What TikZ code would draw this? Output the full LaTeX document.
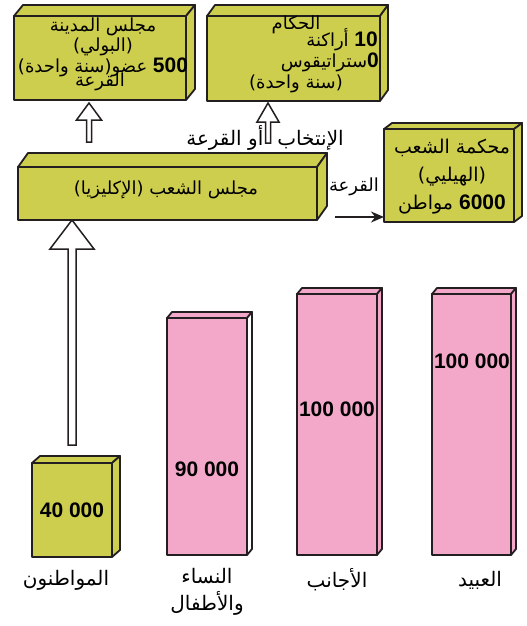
\documentclass[tikz,border=0pt]{standalone}
\usepackage{fontspec}
\setmainfont{Liberation Sans}
\newfontfamily\arabicfont[Script=Arabic]{DejaVu Sans}
\TeXXeTstate=1
\usepackage{xcolor}
\usepackage{tikz}
\usetikzlibrary{positioning}
\usetikzlibrary{arrows.meta,calc}

\definecolor{olive}{RGB}{206,206,78}
\definecolor{rose}{RGB}{243,168,201}
\definecolor{ink}{RGB}{35,31,32}

\newcommand{\artext}[1]{{\arabicfont\beginR #1\endR}}
\newcommand{\bignum}[1]{{\rmfamily\fontsize{21}{24}\selectfont\bfseries\beginL #1\endL}}

\begin{document}
\begin{tikzpicture}[x=1pt, y=-1pt,
  face/.style={draw=ink, line width=1.8pt, line join=round},
  block/.style={face, inner sep=0pt, outer sep=0pt},
  hollow/.style={draw=ink, fill=white, line width=1.5pt, line join=miter},
  lbl/.style={inner sep=0pt, font=\fontsize{18}{20.5}\selectfont, align=center},
  grouplbl/.style={inner sep=0pt, font=\fontsize{20}{27}\selectfont, align=center},
  numlbl/.style={inner sep=0pt}]
  \useasboundingbox (0,0) rectangle (527,626);

  % the blocks
  \node[block, fill=olive, minimum width=172, minimum height=84]  (Boule)      at (100,58)    {};
  \node[block, fill=olive, minimum width=173, minimum height=85]  (Archons)    at (293.5,58.5) {};
  \node[block, fill=olive, minimum width=130, minimum height=93]  (Heliaia)    at (449,175.5) {};
  \node[block, fill=olive, minimum width=299, minimum height=53]  (Ekklesia)   at (167.5,193.5) {};
  \node[block, fill=olive, minimum width=80,  minimum height=94]  (Citizens)   at (72,510)    {};
  \node[block, fill=rose,  minimum width=80,  minimum height=237] (Women)      at (207,436.5) {};
  \node[block, fill=rose,  minimum width=80,  minimum height=261] (Foreigners) at (337,424.5) {};
  \node[block, fill=rose,  minimum width=79,  minimum height=261] (Slaves)     at (471.5,424.5) {};

  \foreach \b/\dx/\dy/\t/\s in {Boule/9/-11/olive/olive, Archons/8/-11/olive/olive,
      Heliaia/8/-6/olive/olive, Ekklesia/10/-14/olive/olive, Citizens/8/-7/olive/olive,
      Women/5/-6/rose/white, Foreigners/5/-6/rose/rose, Slaves/5/-6/rose/rose} {
    \draw[face, fill=\t] (\b.north west) -- ++(\dx,\dy) -- ([shift={(\dx,\dy)}]\b.north east) -- (\b.north east) -- cycle;
    \draw[face, fill=\s] (\b.north east) -- ++(\dx,\dy) -- ([shift={(\dx,\dy)}]\b.south east) -- (\b.south east) -- cycle;
  }

  % texts in the blocks
  \node[lbl] (BouleTxt) at (103,47) {\artext{مجلس المدينة}\\ \artext{(البولي)}\\ \artext{\bignum{500} عضو(سنة واحدة)}};
  \node[lbl] (BouleLot) at (100,82) {\artext{القرعة}};

  \node[lbl] (ArchA) at (296,25) {\artext{الحكام}};
  \node[lbl, anchor=east] (ArchB) at (378,40) {\artext{\bignum{10} أراكنة}};
  \node[lbl, anchor=east] (ArchC) at (379,62) {\artext{\bignum{0}ستراتيقوس}};
  \node[lbl] (ArchD) at (296,84) {\artext{(سنة واحدة)}};

  \node[lbl, font=\fontsize{19}{28}\selectfont] (HelTxt) at (452,177)
    {\artext{محكمة الشعب}\\ \artext{(الهيليي)}\\ \artext{\bignum{6000} مواطن}};

  \node[lbl] (EkkTxt) at (166,190) {\artext{مجلس الشعب (الإكليزيا)}};

  \node[numlbl] (CitNum) at (72,510)  {\bignum{40 000}};
  \node[numlbl] (WomNum) at (207,469) {\bignum{90 000}};
  \node[numlbl] (ForNum) at (337,409) {\bignum{100 000}};
  \node[numlbl] (SlvNum) at (472,361) {\bignum{100 000}};

  % names under the blocks
  \node[grouplbl] (CitLbl) at (66,580)  {\artext{المواطنون}};
  \node[grouplbl] (WomLbl) at (207,592) {\artext{النساء}\\ \artext{والأطفال}};
  \node[grouplbl] (ForLbl) at (337,580) {\artext{الأجانب}};
  \node[grouplbl] (SlvLbl) at (480,580) {\artext{العبيد}};

  % arrows
  \node[lbl, font=\fontsize{20}{22}\selectfont] (ElecLbl) at (265,138) {\artext{الإنتخاب\hspace{14pt}أو القرعة}};
  \node[lbl] (LotLbl)  at (354,187) {\artext{القرعة}};

  \coordinate (tipE) at (Ekklesia.south -| Citizens.north);
  \coordinate (tipB) at ([xshift=-11pt, yshift=-3pt]Boule.south);
  \coordinate (tipA) at ([xshift=-25.5pt, yshift=-2pt]Archons.south);
  \foreach \t/\l/\h/\w/\s in {tipE/225/29/22/4, tipB/39/17/12.5/2.5, tipA/40/19/11/2.5} {
    \draw[hollow] (\t) -- ++(\w,\h) -- ++(-\w+\s,0) -- ++(0,\l-\h) -- ++(-2*\s,0)
      -- ++(0,-\l+\h) -- ++(-\w+\s,0) -- cycle;
  }

  \coordinate (lotS) at ([xshift=18pt, yshift=3pt]Ekklesia.south east);
  \draw[ink, line width=2pt, -{Stealth[length=13pt, width=11pt]}] (lotS) -- (Heliaia.west |- lotS);
\end{tikzpicture}
\end{document}
